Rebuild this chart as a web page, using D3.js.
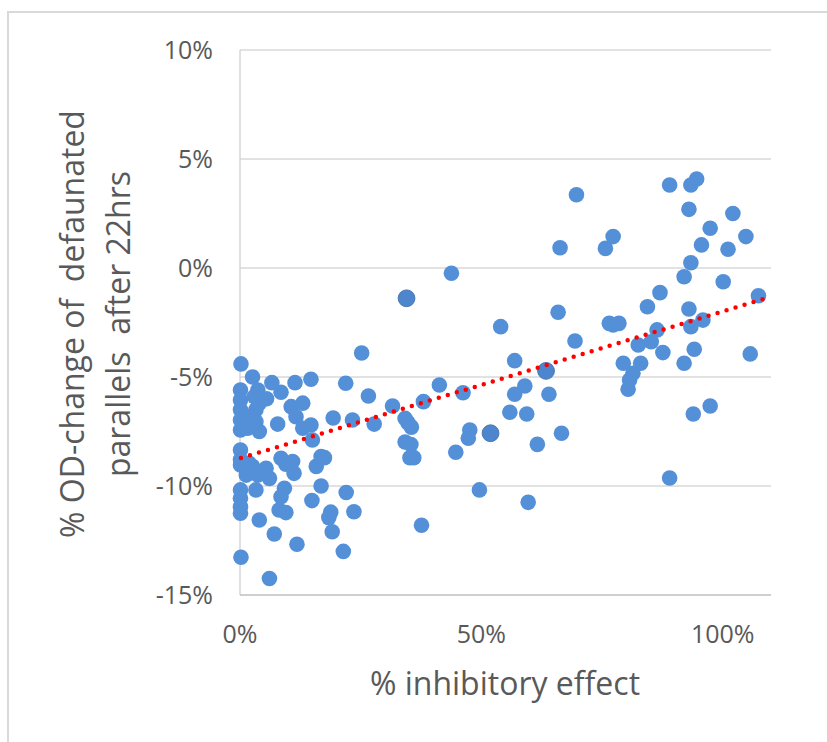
<!DOCTYPE html>
<html>
<head>
<meta charset="utf-8">
<script src="https://cdn.jsdelivr.net/npm/d3@7"></script>
<style>
  html, body { margin: 0; padding: 0; background: #fff; }
  svg text { font-family: "Open Sans", "Noto Sans", sans-serif; fill: #595959; white-space: pre; }
</style>
</head>
<body>
<svg id="chart" width="827" height="742"></svg>
<script>
// % inhibitory effect (x) and % OD-change (y)
const inhibition = [
  0.2, 2.6, 6.6, 11.4, 14.7, 0.1, 3.7, 8.5, 3.0, 4.0,
  0.1, 0.1, 0.1, 0.1, 3.3, 3.3, 4.0, 1.2, 1.6, 5.5,
  10.6, 13.0, 11.6, 7.8, 13.0, 14.7, 15.0, 19.3,
  0.1, 0.1, 0.1, 1.9, 3.0, 5.4, 8.5, 10.9, 16.8, 17.5, 15.8,
  0.9, 2.6, 1.3, 3.7, 6.1, 9.5, 11.2,
  16.8, 0.1, 0.1, 0.1, 0.1, 3.3, 9.2, 8.5, 8.1, 9.5, 14.9,
  18.8, 18.4, 19.1, 4.0, 7.1, 11.8, 0.2, 6.1,
  21.9, 26.6, 25.2, 23.3, 27.8, 22.0, 23.6, 21.4,
  31.6, 34.2, 34.8, 35.5, 34.2, 35.4, 35.2, 36.0, 37.6, 38.0, 41.3, 43.8,
  46.2, 44.7, 47.6, 47.3, 49.6, 54.0, 56.9, 59.0, 56.9, 64.0, 55.9, 59.4,
  61.6, 66.6, 59.7, 65.9, 69.4, 66.3, 69.7,
  75.7, 77.3, 76.5, 77.3, 78.5, 79.4, 83.0, 81.4, 80.7, 80.4, 82.5, 85.2, 86.4,
  84.4, 87.0, 87.6, 89.0, 89.0, 92.0, 92.0, 93.0, 93.4, 94.6, 93.4, 93.0, 93.4,
  94.1, 93.9, 95.6, 95.9, 97.4, 97.4, 100.1, 101.1, 102.1, 104.8, 105.7, 107.4
];
const odChange = [
  -4.4, -5.0, -5.26, -5.26, -5.1, -5.6, -5.6, -5.7, -5.9, -6.2,
  -6.06, -6.5, -6.97, -7.43, -6.5, -7.05, -7.5, -6.8, -7.35, -6.0,
  -6.36, -6.2, -6.82, -7.16, -7.35, -7.2, -7.89, -6.88,
  -8.35, -8.8, -9.04, -8.96, -9.27, -9.19, -8.73, -8.88, -8.65, -8.7, -9.1,
  -9.0, -9.1, -9.5, -9.5, -9.65, -9.0, -9.42,
  -10.0, -10.18, -10.56, -10.95, -11.25, -10.18, -10.1, -10.49, -11.1, -11.22, -10.67,
  -11.2, -11.45, -12.1, -11.56, -12.2, -12.67, -13.27, -14.24,
  -5.29, -5.87, -3.9, -6.97, -7.16, -10.3, -11.18, -13.0,
  -6.33, -6.9, -7.1, -7.3, -7.98, -8.1, -8.7, -8.7, -11.8, -6.13, -5.37, -0.24,
  -5.72, -8.45, -7.43, -7.81, -10.18, -2.69, -4.25, -5.41, -5.79, -5.79, -6.62, -6.7,
  -8.09, -7.58, -10.75, -2.03, -3.35, 0.93, 3.36,
  0.9, 1.44, -2.54, -2.61, -2.54, -4.37, -4.37, -4.83, -5.14, -5.56, -3.53, -3.38, -2.84,
  -1.78, -1.13, -3.88, 3.81, -9.63, -0.4, -4.37, 2.69, 3.81, 4.08, 0.24, -1.88, -2.69,
  -3.73, -6.7, 1.06, -2.39, 1.82, -6.33, -0.63, 0.86, 2.5, 1.44, -3.94, -1.27
];
// points that sit on top of each other (drawn slightly darker in the picture)
const stackedX = [34.5, 51.9, 63.4];
const stackedY = [-1.39, -7.58, -4.72];

// linear trendline as drawn in the picture (endpoints)
const trendX = [0.2, 108.3];
const trendY = [-8.72, -1.43];

const xTicks = [0, 0.5, 1.0];
const yTicks = [-0.15, -0.10, -0.05, 0, 0.05, 0.10];
const xTitle = "% inhibitory effect";
const yTitleLines = ["% OD-change of  defaunated", "parallels  after 22hrs"];

const svg = d3.select("#chart");
svg.append("rect").attr("width", 827).attr("height", 742).attr("fill", "#fff");
// outer chart-area border (right/bottom edges fall outside the frame)
svg.append("rect").attr("x", 8).attr("y", 12).attr("width", 840).attr("height", 760)
  .attr("fill", "none").attr("stroke", "#d9d9d9").attr("stroke-width", 2);

const x = d3.scaleLinear().domain([0, 1.1]).range([240, 771]);
const y = d3.scaleLinear().domain([-0.15, 0.10]).range([595, 50]);
const pct = d => d3.format(".0%")(d).replace("\u2212", "-");

// horizontal gridlines
svg.append("g").selectAll("line").data(yTicks.filter(t => t > -0.15)).join("line")
  .attr("x1", x(0)).attr("x2", x(1.1))
  .attr("y1", d => y(d)).attr("y2", d => y(d))
  .attr("stroke", "#d9d9d9").attr("stroke-width", 1.3);

// axis lines
svg.append("line").attr("x1", x(0)).attr("x2", x(0)).attr("y1", y(0.10)).attr("y2", y(-0.15))
  .attr("stroke", "#d0d0d0").attr("stroke-width", 1.3);
svg.append("line").attr("x1", x(0)).attr("x2", x(1.1)).attr("y1", y(-0.15)).attr("y2", y(-0.15))
  .attr("stroke", "#bfbfbf").attr("stroke-width", 1.3);

// y tick labels
svg.append("g").selectAll("text").data(yTicks).join("text")
  .attr("x", 213).attr("y", d => y(d)).attr("dy", "0.35em")
  .attr("text-anchor", "end").attr("font-size", 25)
  .text(d => pct(d));

// x tick labels
svg.append("g").selectAll("text").data(xTicks).join("text")
  .attr("x", d => x(d)).attr("y", 634).attr("dy", "0.35em")
  .attr("text-anchor", "middle").attr("font-size", 25)
  .text(d => pct(d));

// axis titles
svg.append("text").attr("x", 505).attr("y", 695).attr("text-anchor", "middle")
  .attr("font-size", 32).text(xTitle);
const yt = svg.append("text").attr("transform", "translate(0,324) rotate(-90)")
  .attr("text-anchor", "middle").attr("font-size", 32);
yt.append("tspan").attr("x", 0).attr("y", 84).text(yTitleLines[0]);
yt.append("tspan").attr("x", 0).attr("y", 130).text(yTitleLines[1]);

// points
const pts = inhibition.map((v, i) => ({ x: v / 100, y: odChange[i] / 100 }));
const stacked = stackedX.map((v, i) => ({ x: v / 100, y: stackedY[i] / 100 }));
svg.append("g").selectAll("circle").data(pts).join("circle")
  .attr("cx", d => x(d.x)).attr("cy", d => y(d.y)).attr("r", 7.8)
  .attr("fill", "#5490d8");
svg.append("g").selectAll("circle").data(stacked).join("circle")
  .attr("cx", d => x(d.x)).attr("cy", d => y(d.y)).attr("r", 8.4)
  .attr("fill", "#4d86cc").attr("stroke", "#4a78b4").attr("stroke-width", 1);

// trendline
const trend = trendX.map((v, i) => [x(v / 100), y(trendY[i] / 100)]);
svg.append("path").attr("d", d3.line()(trend))
  .attr("fill", "none")
  .attr("stroke", "#ff0000").attr("stroke-width", 4.5)
  .attr("stroke-linecap", "round").attr("stroke-dasharray", "0 9.4");
</script>
</body>
</html>
